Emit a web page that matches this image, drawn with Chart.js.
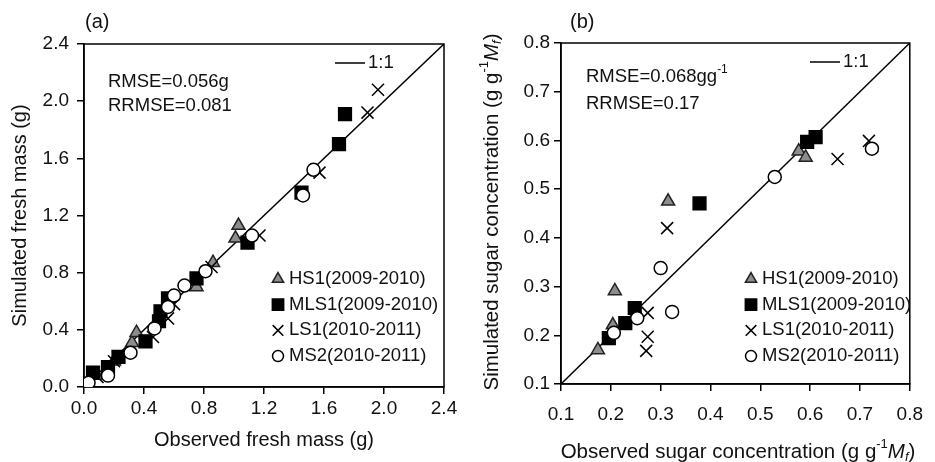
<!DOCTYPE html>
<html>
<head>
<meta charset="utf-8">
<script src="https://cdn.jsdelivr.net/npm/chart.js@4.4.1/dist/chart.umd.min.js"></script>
<style>
  body { margin: 0; background: #fff; }
  #boxA { position: absolute; left: 0; top: 0; }
  #boxB { position: absolute; left: 470px; top: 0; }
</style>
</head>
<body>
<canvas id="boxA" width="470" height="462"></canvas>
<canvas id="boxB" width="465" height="462"></canvas>
<script>
// ---- (a) fresh mass, observed (x) vs simulated (y), g
const hs1Mass = [
  {x: 0.08, y: 0.08}, {x: 0.20, y: 0.18}, {x: 0.32, y: 0.31}, {x: 0.35, y: 0.38},
  {x: 0.75, y: 0.70}, {x: 0.86, y: 0.87}, {x: 1.01, y: 1.04}, {x: 1.03, y: 1.13}
];
const mls1Mass = [
  {x: 0.06, y: 0.10}, {x: 0.16, y: 0.14}, {x: 0.23, y: 0.21}, {x: 0.41, y: 0.32},
  {x: 0.50, y: 0.46}, {x: 0.51, y: 0.53}, {x: 0.56, y: 0.62}, {x: 0.75, y: 0.76},
  {x: 1.09, y: 1.01}, {x: 1.45, y: 1.36}, {x: 1.70, y: 1.70}, {x: 1.74, y: 1.91}
];
const ls1Mass = [
  {x: 0.09, y: 0.07}, {x: 0.20, y: 0.18}, {x: 0.46, y: 0.35}, {x: 0.56, y: 0.48},
  {x: 0.60, y: 0.58}, {x: 0.85, y: 0.84}, {x: 1.17, y: 1.06}, {x: 1.57, y: 1.50},
  {x: 1.89, y: 1.92}, {x: 1.96, y: 2.08}
];
const ms2Mass = [
  {x: 0.03, y: 0.03}, {x: 0.16, y: 0.08}, {x: 0.31, y: 0.24}, {x: 0.47, y: 0.41},
  {x: 0.56, y: 0.56}, {x: 0.60, y: 0.64}, {x: 0.67, y: 0.71}, {x: 0.81, y: 0.81},
  {x: 1.12, y: 1.06}, {x: 1.46, y: 1.34}, {x: 1.53, y: 1.52}
];
const massTicks = [0, 0.4, 0.8, 1.2, 1.6, 2.0, 2.4];

// ---- (b) sugar concentration, g g-1 Mf
const hs1Sugar = [
  {x: 0.174, y: 0.170}, {x: 0.204, y: 0.221}, {x: 0.208, y: 0.291},
  {x: 0.315, y: 0.475}, {x: 0.577, y: 0.578}, {x: 0.591, y: 0.565}
];
const mls1Sugar = [
  {x: 0.196, y: 0.194}, {x: 0.229, y: 0.225}, {x: 0.248, y: 0.256},
  {x: 0.378, y: 0.471}, {x: 0.594, y: 0.597}, {x: 0.611, y: 0.607}
];
const ls1Sugar = [
  {x: 0.271, y: 0.168}, {x: 0.274, y: 0.197}, {x: 0.274, y: 0.246},
  {x: 0.313, y: 0.420}, {x: 0.655, y: 0.562}, {x: 0.718, y: 0.599}
];
const ms2Sugar = [
  {x: 0.206, y: 0.205}, {x: 0.253, y: 0.235}, {x: 0.300, y: 0.338},
  {x: 0.323, y: 0.248}, {x: 0.529, y: 0.525}, {x: 0.724, y: 0.583}
];
const sugarTicks = [0.1, 0.2, 0.3, 0.4, 0.5, 0.6, 0.7, 0.8];

const seriesLabels = ['HS1(2009-2010)', 'MLS1(2009-2010)', 'LS1(2010-2011)', 'MS2(2010-2011)'];

const family = '"Liberation Sans", Arial, Helvetica, sans-serif';
const ink = '#111';

// rich text: parts = [{t, s}] where s is 'sup', 'sub', 'it' or undefined
function partFont(p, size) {
  const small = p.s === 'sup' || p.s === 'sub';
  const italic = p.s === 'it' || p.s === 'sub';
  return (italic ? 'italic ' : '') + (small ? Math.round(size * 0.65) : size) + 'px ' + family;
}
function richWidth(ctx, parts, size) {
  let w = 0;
  parts.forEach(p => { ctx.font = partFont(p, size); w += ctx.measureText(p.t).width; });
  return w;
}
function drawRich(ctx, parts, x, y, size) {
  ctx.textAlign = 'left';
  ctx.textBaseline = 'middle';
  parts.forEach(p => {
    ctx.font = partFont(p, size);
    let dy = 0;
    if (p.s === 'sup') dy = -size * 0.38;
    if (p.s === 'sub') dy = size * 0.28;
    ctx.fillText(p.t, x, y + dy);
    x += ctx.measureText(p.t).width;
  });
}

// box round the plot area
const frame = {
  id: 'frame',
  beforeDatasetsDraw(chart) {
    const {ctx, chartArea: a} = chart;
    ctx.save();
    ctx.strokeStyle = '#000';
    ctx.lineWidth = 1.5;
    ctx.strokeRect(a.left, a.top, a.right - a.left, a.bottom - a.top);
    ctx.restore();
  }
};

// panel letter, error stats, 1:1 key, series legend, rich axis titles
const notes = {
  id: 'notes',
  afterDraw(chart, args, o) {
    const {ctx, chartArea: a} = chart;
    ctx.save();
    ctx.fillStyle = ink;
    drawRich(ctx, [{t: o.letter}], a.left + o.letterAt[0], a.top + o.letterAt[1], 20);
    o.stats.forEach((parts, i) => {
      drawRich(ctx, parts, a.left + o.statsAt[0], a.top + o.statsAt[1] + i * o.statsGap, 18.5);
    });
    // 1:1 key
    const k = o.keyAt;
    ctx.strokeStyle = '#000';
    ctx.lineWidth = 1.5;
    ctx.beginPath();
    ctx.moveTo(a.left + k[0], a.top + k[1]);
    ctx.lineTo(a.left + k[0] + 30, a.top + k[1]);
    ctx.stroke();
    drawRich(ctx, [{t: '1:1'}], a.left + k[0] + 33, a.top + k[1], 18.5);
    // series legend, markers taken from the datasets
    let row = 0;
    chart.data.datasets.forEach(ds => {
      if (ds.showLine) return;
      const x = a.left + o.legendAt[0];
      const y = a.top + o.legendAt[1] + row * o.legendGap;
      ctx.fillStyle = ds.backgroundColor;
      ctx.strokeStyle = ds.borderColor;
      ctx.lineWidth = ds.borderWidth;
      Chart.helpers.drawPoint(ctx, {
        pointStyle: ds.pointStyle, radius: ds.pointRadius - 1, rotation: 0, borderWidth: ds.borderWidth
      }, x, y);
      ctx.fillStyle = ink;
      drawRich(ctx, [{t: ds.label}], x + 11, y, 18.5);
      row++;
    });
    // rich axis titles (panel b)
    if (o.xTitle) {
      const w = richWidth(ctx, o.xTitle, 20.5);
      drawRich(ctx, o.xTitle, o.xTitleAt[0] - w / 2, o.xTitleAt[1], 20.5);
    }
    if (o.yTitle) {
      const w = richWidth(ctx, o.yTitle, 20.5);
      ctx.translate(o.yTitleAt[0], o.yTitleAt[1]);
      ctx.rotate(-Math.PI / 2);
      drawRich(ctx, o.yTitle, -w / 2, 0, 20.5);
    }
    ctx.restore();
  }
};

function series(label, data, kind) {
  const look = {
    tri: {pointStyle: 'triangle', pointRadius: 7.5, backgroundColor: '#8c8c8c', borderColor: '#222', order: 4},
    sq: {pointStyle: 'rect', pointRadius: 9, backgroundColor: '#000', borderColor: '#000', order: 3},
    x: {pointStyle: 'crossRot', pointRadius: 8.5, backgroundColor: '#000', borderColor: '#000', order: 2},
    o: {pointStyle: 'circle', pointRadius: 6.5, backgroundColor: '#fff', borderColor: '#000', order: 1}
  }[kind];
  return Object.assign({label, data, borderWidth: 1.5, pointHoverRadius: look.pointRadius}, look);
}

function oneToOne(lim) {
  return {
    label: '1:1', data: [lim[0], lim[lim.length - 1]].map(v => ({x: v, y: v})),
    showLine: true, pointRadius: 0, borderColor: '#000', borderWidth: 1.5, order: 5
  };
}

function axis(ticks, o) {
  return {
    type: 'linear',
    min: ticks[0],
    max: ticks[ticks.length - 1],
    afterBuildTicks: s => { s.ticks = ticks.map(v => ({value: v})); },
    afterFit: s => { if (o.width) s.width = o.width; if (o.height) s.height = o.height; },
    grid: {drawOnChartArea: false, drawTicks: true, tickLength: 7, color: '#000', lineWidth: 1.5},
    border: {display: true, color: '#000', width: 1.5},
    ticks: {
      color: ink, padding: o.pad, font: {family, size: 19},
      callback: v => v.toFixed(1)
    },
    title: o.title ? {
      display: true, text: o.title, color: ink, font: {family, size: 20},
      padding: o.titlePad
    } : {display: false}
  };
}

new Chart(document.getElementById('boxA'), {
  type: 'scatter',
  data: {
    datasets: [
      series(seriesLabels[0], hs1Mass, 'tri'),
      series(seriesLabels[1], mls1Mass, 'sq'),
      series(seriesLabels[2], ls1Mass, 'x'),
      series(seriesLabels[3], ms2Mass, 'o'),
      oneToOne(massTicks)
    ]
  },
  options: {
    responsive: false,
    animation: false,
    layout: {padding: {top: 44, right: 26, left: 0, bottom: 0}},
    scales: {
      x: axis(massTicks, {height: 75, pad: 3, title: 'Observed fresh mass (g)', titlePad: {top: 0, bottom: 10}}),
      y: axis(massTicks, {width: 84, pad: 8, title: 'Simulated fresh mass (g)', titlePad: {top: 8, bottom: 0}})
    },
    plugins: {
      legend: {display: false},
      tooltip: {enabled: false},
      notes: {
        letter: '(a)', letterAt: [1, -22],
        stats: [[{t: 'RMSE=0.056g'}], [{t: 'RRMSE=0.081'}]], statsAt: [24, 38], statsGap: 24,
        keyAt: [251, 19],
        legendAt: [194, 235], legendGap: 25.7
      }
    }
  },
  plugins: [frame, notes]
});

new Chart(document.getElementById('boxB'), {
  type: 'scatter',
  data: {
    datasets: [
      series(seriesLabels[0], hs1Sugar, 'tri'),
      series(seriesLabels[1], mls1Sugar, 'sq'),
      series(seriesLabels[2], ls1Sugar, 'x'),
      series(seriesLabels[3], ms2Sugar, 'o'),
      oneToOne(sugarTicks)
    ]
  },
  options: {
    responsive: false,
    animation: false,
    layout: {padding: {top: 43, right: 16, left: 0, bottom: 0}},
    scales: {
      x: axis(sugarTicks, {height: 78, pad: 12}),
      y: axis(sugarTicks, {width: 91, pad: 4})
    },
    plugins: {
      legend: {display: false},
      tooltip: {enabled: false},
      notes: {
        letter: '(b)', letterAt: [9, -21],
        stats: [[{t: 'RMSE=0.068gg'}, {t: '-1', s: 'sup'}], [{t: 'RRMSE=0.17'}]], statsAt: [25, 34], statsGap: 27,
        keyAt: [249, 19],
        legendAt: [190, 236], legendGap: 25.7,
        xTitle: [{t: 'Observed sugar concentration (g g'}, {t: '-1', s: 'sup'}, {t: 'M', s: 'it'}, {t: 'f', s: 'sub'}, {t: ')'}],
        xTitleAt: [268, 452],
        yTitle: [{t: 'Simulated sugar concentration (g g'}, {t: '-1', s: 'sup'}, {t: 'M', s: 'it'}, {t: 'f', s: 'sub'}, {t: ')'}],
        yTitleAt: [22, 212]
      }
    }
  },
  plugins: [frame, notes]
});
</script>
</body>
</html>
